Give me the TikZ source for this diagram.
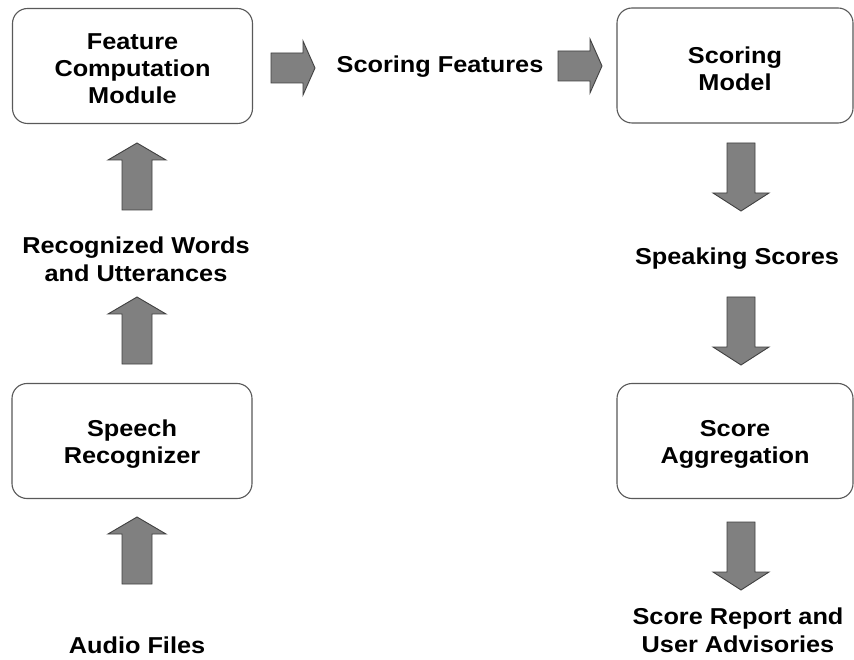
\documentclass[tikz,border=0pt]{standalone}
\usepackage{fontspec}
\setmainfont[FakeStretch=1.1]{Liberation Sans}
\begin{document}
\begin{tikzpicture}[x=1pt,y=-1pt,
  box/.style={draw=black!65,line width=1.1pt,rounded corners=15pt,fill=white,
    minimum width=240pt,minimum height=115pt,inner sep=0pt},
  btxt/.style={align=center,inner sep=0pt,yshift=-3pt,font=\fontsize{23}{27}\selectfont\bfseries},
  lbl/.style={align=center,inner sep=0pt,font=\fontsize{23}{28}\selectfont\bfseries},
  blk/.style={draw=black!75,fill=black!50,line width=0.9pt,line join=miter},
  uparr/.pic={\path[blk] (-15,67) -- (-15,17) -- (-29,17) -- (0,0) -- (29,17) -- (15,17) -- (15,67) -- cycle;},
  dnarr/.pic={\path[blk] (-14,0) -- (-14,50) -- (-28,50) -- (0,68) -- (28,50) -- (14,50) -- (14,0) -- cycle;},
  rtarr/.pic={\path[blk] (0,-15) -- (32,-15) -- (32,-27) -- (44,0) -- (32,27) -- (32,15) -- (0,15) -- cycle;}
]
\useasboundingbox (0,0) rectangle (854,660);
\fill[white] (0,0) rectangle (854,660);

\node[box] (fcm) at (132.5,66) {};
\node[box,minimum width=236pt] (sm) at (735,65.5) {};
\node[box] (sr) at (132,441) {};
\node[box,minimum width=236pt] (sa) at (735,441) {};
\node[btxt] (fcmt) at (fcm.center) {Feature\\Computation\\Module};
\node[btxt] (smt) at (sm.center) {Scoring\\Model};
\node[btxt] (srt) at (sr.center) {Speech\\Recognizer};
\node[btxt] (sat) at (sa.center) {Score\\Aggregation};

\node[lbl] (sf) at (440,67) {Scoring Features};
\node[lbl] (rw) at (136,259) {Recognized Words\\and Utterances};
\node[lbl] (ss) at (737,259) {Speaking Scores};
\node[lbl] (af) at (137,645) {Audio Files};
\node[lbl] (sr2) at (738,630) {Score Report and\\User Advisories};

\pic at (271,68) {rtarr};
\pic at (558,66) {rtarr};
\pic at (137,143) {uparr};
\pic at (137,297) {uparr};
\pic at (137,517) {uparr};
\pic at (741,143) {dnarr};
\pic at (741,297) {dnarr};
\pic at (741,522) {dnarr};
\end{tikzpicture}
\end{document}
